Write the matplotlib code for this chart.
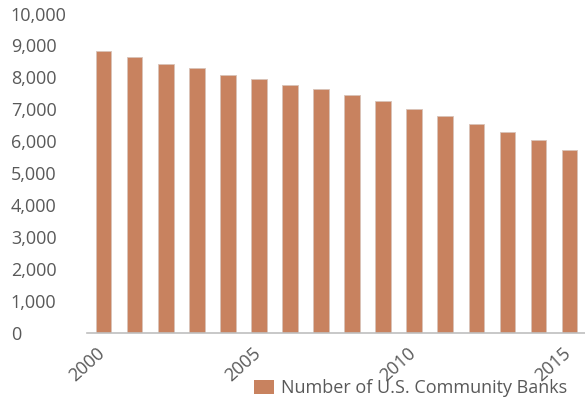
import matplotlib.pyplot as plt
import matplotlib.transforms as mtransforms
from matplotlib.patches import Patch

# Community bank counts, 2000-2015
years = list(range(2000, 2016))
banks = [8830, 8630, 8430, 8280, 8060, 7940, 7760, 7630,
         7450, 7260, 7020, 6800, 6540, 6290, 6040, 5730]
yticks = [0, 1000, 2000, 3000, 4000, 5000, 6000, 7000, 8000, 9000, 10000]
label_years = [2000, 2005, 2010, 2015]

bar_color = "#C8825F"
text_color = "#595959"
plt.rcParams["font.family"] = ["Open Sans", "DejaVu Sans"]

fig = plt.figure(figsize=(5.85, 3.98), dpi=100)
ax = fig.add_axes([0.149, 0.164, 0.851, 0.802])

x = list(range(len(years)))
ax.bar(x, banks, width=0.5, color=bar_color, edgecolor="#D9C3B8", linewidth=0.6)

ax.set_ylim(0, 10000)
ax.set_xlim(-0.53, len(years) - 0.5)

ax.set_yticks(yticks)
ax.set_yticklabels([f"{v:,}" for v in yticks], fontsize=13, color=text_color)
for lab in ax.get_yticklabels():
    lab.set_horizontalalignment("left")
ax.tick_params(axis="y", length=0, pad=55)

pos = [years.index(y) for y in label_years]
ax.set_xticks(pos)
ax.set_xticklabels([str(y) for y in label_years], fontsize=13, color=text_color,
                   rotation=42, ha="right", va="top", rotation_mode="anchor")
ax.tick_params(axis="x", length=0, pad=8)
# nudge the year labels a little to the left
shift = mtransforms.ScaledTranslation(-5 / 72, 0, fig.dpi_scale_trans)
for lab in ax.get_xticklabels():
    lab.set_transform(lab.get_transform() + shift)

for side in ["top", "right", "left"]:
    ax.spines[side].set_visible(False)
ax.spines["bottom"].set_color("#BFBFBF")
ax.spines["bottom"].set_linewidth(1.2)

handle = Patch(facecolor=bar_color, edgecolor="none")
fig.legend([handle], ["Number of U.S. Community Banks"], loc="center left",
           bbox_to_anchor=(0.434, 0.025), frameon=False, fontsize=13,
           labelcolor=text_color, handlelength=1.1, handleheight=0.8,
           handletextpad=0.4, borderpad=0, borderaxespad=0)

fig.savefig("out.png", dpi=100)
